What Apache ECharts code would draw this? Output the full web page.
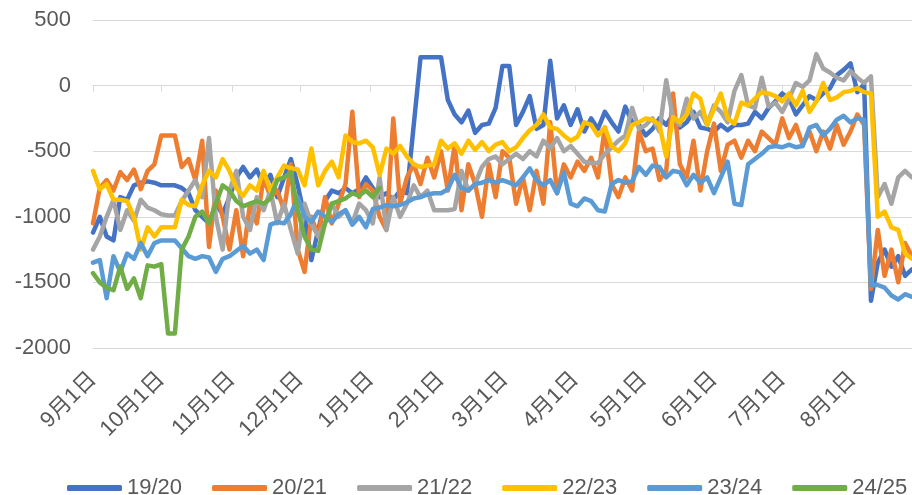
<!DOCTYPE html>
<html><head><meta charset="utf-8">
<script src="https://cdn.jsdelivr.net/npm/echarts@6/dist/echarts.min.js"></script>
<style>html,body{margin:0;padding:0;background:#fff}#c{width:912px;height:495px}</style>
</head><body><div id="c"></div>
<script>
// Category setup (one category per day, Sep 1 .. Aug 31)
const monthNames = [9,10,11,12,1,2,3,4,5,6,7,8];
const monthDays = [30,31,30,31,31,28,31,30,31,30,31,31];
const seriesNames = ['19/20','20/21','21/22','22/23','23/24','24/25'];
const colors = ['#4472C4','#ED7D31','#A5A5A5','#FFC000','#5B9BD5','#70AD47'];
const stepDays = 3; // values below are read every 3rd day
const yTicks = {min: -2000, max: 500, interval: 500};

const s1920 = [
 -1120,-1000,-1150,-1180,-850,-870,-760,-740,-730,-740,
 -760,-760,-760,-780,-820,-950,-1000,-1050,-900,-980,
 -850,-700,-620,-700,-640,-760,-680,-850,-700,-560,
 -760,-1000,-1330,-1100,-880,-800,-820,-780,-820,-790,
 -700,-780,-850,-820,-870,-800,-820,-300,217,217,
 217,217,-110,-220,-280,-190,-360,-300,-290,-170,
 150,150,-300,-200,-80,-330,-300,190,-250,-150,
 -300,-180,-350,-250,-330,-200,-280,-350,-160,-280,
 -300,-380,-330,-250,-300,-220,-320,-280,-200,-320,
 -330,-350,-300,-340,-300,-300,-290,-200,-250,-170,
 -120,-60,-100,-220,-150,-80,-110,-60,-20,80,
 120,170,-50,10,-1640,-1350,-1250,-1380,-1300,-1450,-1400,-1420
];
const s2021 = [
 -1050,-780,-720,-800,-660,-720,-640,-790,-650,-600,
 -380,-380,-380,-620,-560,-720,-420,-1230,-800,-1000,
 -1250,-950,-1300,-900,-1050,-700,-850,-800,-950,-600,
 -1250,-1420,-1000,-1150,-850,-1050,-900,-750,-200,-850,
 -750,-800,-1000,-1100,-250,-900,-700,-600,-750,-550,
 -700,-500,-800,-450,-950,-600,-750,-1000,-600,-850,
 -500,-550,-900,-700,-950,-650,-900,-280,-820,-600,
 -700,-580,-650,-550,-700,-320,-750,-850,-700,-800,
 -350,-500,-480,-720,-650,-60,-600,-700,-420,-800,
 -500,-290,-650,-450,-420,-550,-420,-500,-350,-400,
 -450,-250,-400,-300,-450,-350,-500,-350,-480,-300,
 -450,-350,-220,-300,-1550,-1100,-1450,-1250,-1500,-1200,-1300,-1250
];
const s2122 = [
 -1250,-1150,-1000,-870,-1100,-950,-1030,-870,-930,-950,
 -980,-990,-990,-880,-800,-720,-850,-400,-1000,-1250,
 -800,-650,-1000,-1100,-850,-950,-800,-1050,-900,-1100,
 -1280,-900,-1050,-1150,-1050,-900,-1000,-950,-1050,-900,
 -950,-1050,-700,-1100,-850,-1000,-900,-760,-850,-800,
 -950,-950,-950,-940,-650,-800,-750,-620,-560,-540,
 -600,-560,-520,-560,-500,-540,-420,-480,-400,-500,
 -460,-520,-580,-590,-590,-520,-470,-420,-380,-170,
 -330,-300,-250,-350,40,-250,-300,-100,-250,-200,
 -300,-150,-200,-280,-40,80,-150,-170,60,-160,
 -130,-200,-100,20,-10,40,240,130,100,60,
 40,110,60,20,70,-850,-750,-900,-700,-650,-700,-700
];
const s2223 = [
 -650,-790,-750,-870,-870,-880,-1000,-1250,-1080,-1150,
 -1080,-1080,-1080,-870,-910,-920,-760,-650,-700,-560,
 -650,-780,-840,-760,-800,-650,-800,-700,-610,-630,
 -640,-760,-480,-760,-650,-580,-700,-380,-430,-440,
 -420,-470,-680,-480,-520,-460,-540,-600,-620,-610,
 -600,-420,-480,-440,-520,-420,-490,-430,-500,-450,
 -430,-500,-470,-400,-340,-300,-220,-320,-330,-380,
 -420,-390,-280,-300,-380,-320,-460,-500,-440,-300,
 -280,-250,-260,-300,-540,-240,-280,-220,-60,-100,
 -300,-180,-60,-250,-290,-130,-150,-100,-50,-60,
 -80,-120,-60,-150,-40,-200,-120,20,-110,-90,
 -50,-40,-20,-50,-60,-1000,-960,-1080,-1100,-1280,-1320,-1320
];
const s2324 = [
 -1350,-1330,-1620,-1300,-1420,-1280,-1320,-1200,-1300,-1200,
 -1180,-1180,-1180,-1240,-1300,-1320,-1300,-1310,-1420,-1320,
 -1300,-1260,-1220,-1280,-1250,-1330,-1060,-1040,-1050,-980,
 -850,-1000,-1040,-960,-1000,-1040,-980,-950,-1060,-1000,
 -1080,-940,-930,-910,-920,-910,-890,-860,-850,-830,
 -820,-820,-790,-680,-780,-800,-750,-740,-720,-740,
 -720,-740,-760,-700,-630,-720,-760,-720,-820,-660,
 -900,-920,-860,-880,-950,-960,-750,-720,-740,-730,
 -620,-680,-610,-620,-700,-650,-660,-760,-680,-740,
 -700,-820,-700,-580,-900,-910,-600,-560,-520,-470,
 -460,-470,-450,-470,-460,-320,-300,-380,-330,-260,
 -230,-280,-250,-260,-1520,-1520,-1540,-1600,-1630,-1590,-1610,-1600
];
const s2425 = [
 -1430,-1500,-1540,-1560,-1380,-1550,-1470,-1620,-1370,-1380,
 -1360,-1890,-1890,-1250,-1150,-1000,-960,-1050,-900,-760,
 -800,-880,-920,-900,-880,-900,-860,-720,-700,-660,
 -950,-1150,-1250,-1260,-1050,-900,-880,-860,-820,-840,
 -800,-850,-780
];
const allValues = [s1920, s2021, s2122, s2223, s2324, s2425];

const categories = [];
const firstIdx = new Set();
monthNames.forEach((m, k) => {
  for (let d = 1; d <= monthDays[k]; d++) {
    if (d === 1) firstIdx.add(categories.length);
    categories.push(m + '月' + d + '日');
  }
});

const FONT = '"Liberation Sans", "Noto Sans CJK SC", sans-serif';
const chart = echarts.init(document.getElementById('c'), null, {renderer: 'canvas'});
chart.setOption({
  animation: false,
  backgroundColor: '#ffffff',
  textStyle: {fontFamily: FONT},
  grid: {left: 93, right: -9, top: 20, bottom: 147, containLabel: false, outerBoundsMode: 'none'},
  legend: {
    data: seriesNames, top: 477, left: 67, padding: 0,
    itemWidth: 55, itemHeight: 6, itemGap: 30, icon: 'roundRect',
    textStyle: {fontSize: 22, color: '#595959', fontFamily: FONT}
  },
  xAxis: [{
    type: 'category', data: categories, boundaryGap: false,
    axisLine: {show: false, onZero: false}, axisTick: {show: false}, splitLine: {show: false},
    axisLabel: {interval: (i) => firstIdx.has(i), rotate: 45, fontSize: 22, color: '#595959', margin: 28, fontFamily: FONT}
  }, {
    type: 'category', data: categories, boundaryGap: false, position: 'bottom',
    axisLine: {show: true, onZero: true, lineStyle: {color: '#d9d9d9', width: 1}},
    axisTick: {show: true, interval: (i) => firstIdx.has(i), length: 6, lineStyle: {color: '#d9d9d9', width: 1}},
    axisLabel: {show: false}, splitLine: {show: false}
  }],
  yAxis: {
    type: 'value', min: yTicks.min, max: yTicks.max, interval: yTicks.interval,
    axisLine: {show: false}, axisTick: {show: false},
    splitLine: {lineStyle: {color: '#d9d9d9', width: 1}},
    axisLabel: {fontSize: 22, color: '#595959', margin: 22, fontFamily: FONT, formatter: (v) => String(v)}
  },
  series: allValues.map((vals, k) => ({
    name: seriesNames[k], type: 'line', xAxisIndex: 0,
    data: vals.map((v, i) => [i * stepDays, v]),
    showSymbol: false, symbol: 'none',
    lineStyle: {width: 4.5, color: colors[k], cap: 'round', join: 'round'},
    itemStyle: {color: colors[k]}
  }))
});
</script></body></html>
